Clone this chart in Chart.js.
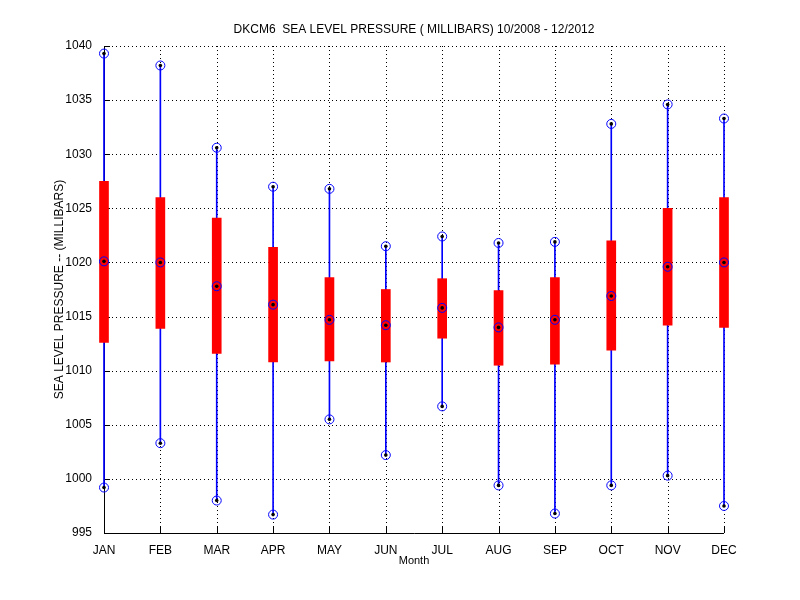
<!DOCTYPE html>
<html>
<head>
<meta charset="utf-8">
<script src="https://cdn.jsdelivr.net/npm/chart.js@4"></script>
<style>
  body { margin: 0; background: #fff; }
  #wrap { width: 800px; height: 600px; }
</style>
</head>
<body>
<div id="wrap"><canvas id="chBox"></canvas></div>
<script>
// monthly stats
const months = ['JAN','FEB','MAR','APR','MAY','JUN','JUL','AUG','SEP','OCT','NOV','DEC'];
const maxVals = [1039.3, 1038.2, 1030.6, 1027.0, 1026.8, 1021.5, 1022.4, 1021.8, 1021.9, 1032.8, 1034.6, 1033.3];
const q3Vals  = [1027.5, 1026.0, 1024.1, 1021.4, 1018.6, 1017.5, 1018.5, 1017.4, 1018.6, 1022.0, 1025.0, 1026.0];
const medVals = [1020.1, 1020.0, 1017.8, 1016.1, 1014.7, 1014.2, 1015.8, 1014.0, 1014.7, 1016.9, 1019.6, 1020.0];
const q1Vals  = [1012.6, 1013.9, 1011.6, 1010.8, 1010.9, 1010.8, 1013.0, 1010.5, 1010.6, 1011.9, 1014.2, 1014.0];
const minVals = [999.2, 1003.3, 998.0, 996.7, 1005.5, 1002.2, 1006.7, 999.4, 996.8, 999.4, 1000.3, 997.5];
const yTicks = [995, 1000, 1005, 1010, 1015, 1020, 1025, 1030, 1035, 1040];

const font = { family: 'Liberation Sans, Arial', size: 12 };

// all marker points (max, median, min)
const markerPts = [];
months.forEach((m, i) => {
  markerPts.push({ x: m, y: maxVals[i] }, { x: m, y: medVals[i] }, { x: m, y: minVals[i] });
});

/* title + dotted grid (matlab style) */
const framePlugin = {
  id: 'frame',
  beforeDatasetsDraw(chart) {
    const c = chart.ctx, a = chart.chartArea;
    const xs = chart.scales.x, ys = chart.scales.y;
    c.save();
    c.strokeStyle = '#000';
    c.lineWidth = 1;
    c.setLineDash([1, 3]);
    c.beginPath();
    months.forEach((m, i) => {
      const px = Math.round(xs.getPixelForValue(i)) + 0.5;
      c.moveTo(px, a.top); c.lineTo(px, a.bottom);
    });
    yTicks.forEach(v => {
      const py = Math.round(ys.getPixelForValue(v)) + 0.5;
      c.moveTo(a.left, py); c.lineTo(a.right, py);
    });
    c.stroke();
    // solid axes + inward ticks
    c.setLineDash([]);
    c.beginPath();
    c.moveTo(a.left + 0.5, a.top); c.lineTo(a.left + 0.5, a.bottom + 0.5); c.lineTo(a.right, a.bottom + 0.5);
    yTicks.forEach(v => {
      const py = Math.round(ys.getPixelForValue(v)) + 0.5;
      c.moveTo(a.left, py); c.lineTo(a.left + 6, py);
    });
    months.forEach((m, i) => {
      const px = Math.round(xs.getPixelForValue(i)) + 0.5;
      c.moveTo(px, a.bottom); c.lineTo(px, a.bottom - 6);
    });
    c.stroke();
    c.restore();
  },
  afterDraw(chart) {
    const c = chart.ctx, a = chart.chartArea;
    c.save();
    c.font = '12px Liberation Sans, Arial';
    c.fillStyle = '#000';
    c.textAlign = 'center';
    c.textBaseline = 'middle';
    c.fillText('DKCM6  SEA LEVEL PRESSURE ( MILLIBARS) 10/2008 - 12/2012', 414, 30);
    c.restore();
  }
};

Chart.defaults.font = font;
Chart.defaults.color = '#000';

new Chart(document.getElementById('chBox'), {
  data: {
    labels: months,
    datasets: [
      {
        type: 'line',
        data: markerPts,
        showLine: false,
        pointStyle: 'circle',
        pointRadius: 4.5,
        pointBorderWidth: 1,
        pointBorderColor: '#0000ff',
        pointBackgroundColor: 'rgba(0,0,0,0)',
        clip: false,
        order: 0
      },
      {
        type: 'line',
        data: markerPts,
        showLine: false,
        pointStyle: 'circle',
        pointRadius: 1.8,
        pointBorderWidth: 0,
        pointBackgroundColor: '#000',
        clip: false,
        order: -1
      },
      {
        type: 'bar',
        data: q1Vals.map((v, i) => [v, q3Vals[i]]),
        backgroundColor: '#ff0000',
        barThickness: 9,
        grouped: false,
        clip: false,
        order: 1
      },
      {
        type: 'bar',
        data: minVals.map((v, i) => [v, maxVals[i]]),
        backgroundColor: '#0000ff',
        barThickness: 1,
        grouped: false,
        clip: false,
        order: 2
      }
    ]
  },
  options: {
    responsive: true,
    maintainAspectRatio: false,
    animation: false,
    layout: { padding: { top: 46, right: 76, bottom: 28, left: 48 } },
    plugins: { legend: { display: false }, tooltip: { enabled: false } },
    scales: {
      x: {
        type: 'category',
        offset: false,
        grid: { display: false },
        border: { display: false },
        ticks: { padding: 2, maxRotation: 0, autoSkip: false },
        title: { display: true, text: 'Month', padding: { top: 0 }, font: { size: 11 } },
        afterFit(s) { s.height = 39; }
      },
      y: {
        min: 995,
        max: 1040,
        afterBuildTicks(s) { s.ticks = yTicks.map(v => ({ value: v })); },
        grid: { display: false },
        border: { display: false },
        ticks: { padding: 4, callback: v => String(v) },
        title: { display: true, text: 'SEA LEVEL PRESSURE -- (MILLIBARS)', padding: { bottom: 0 } },
        afterFit(s) { s.width = 56; }
      }
    }
  },
  plugins: [framePlugin]
});
</script>
</body>
</html>
